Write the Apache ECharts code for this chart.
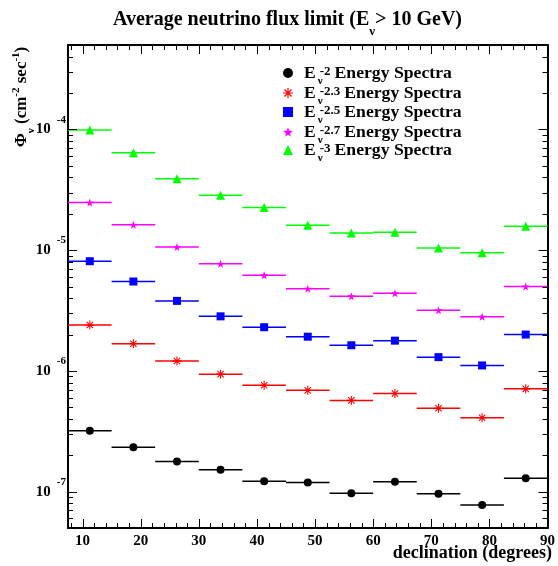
<!DOCTYPE html>
<html>
<head>
<meta charset="utf-8">
<script src="https://cdn.jsdelivr.net/npm/echarts@6/dist/echarts.min.js"></script>
<style>
  html, body { margin: 0; padding: 0; background: #ffffff; }
  #chart { width: 558px; height: 566px; }
</style>
</head>
<body>
<div id="chart"></div>
<script>
// Declination bins (degrees)
const binEdges = [7.5, 15, 22.5, 30, 37.5, 45, 52.5, 60, 67.5, 75, 82.5, 90];

// Spectral indices of the five energy spectra
const spectralIndices = ['-2', '-2.3', '-2.5', '-2.7', '-3'];

// Average flux limits per declination bin (cm^-2 s^-1)
const fluxE2  = [3.20e-7, 2.33e-7, 1.78e-7, 1.52e-7, 1.22e-7, 1.19e-7, 9.7e-8, 1.21e-7, 9.6e-8, 7.75e-8, 1.29e-7];
const fluxE23 = [2.40e-6, 1.68e-6, 1.21e-6, 9.4e-7, 7.6e-7, 6.9e-7, 5.7e-7, 6.5e-7, 4.9e-7, 4.1e-7, 7.1e-7];
const fluxE25 = [8.1e-6, 5.5e-6, 3.8e-6, 2.83e-6, 2.30e-6, 1.92e-6, 1.63e-6, 1.78e-6, 1.30e-6, 1.11e-6, 2.0e-6];
const fluxE27 = [2.48e-5, 1.62e-5, 1.06e-5, 7.7e-6, 6.2e-6, 4.8e-6, 4.15e-6, 4.4e-6, 3.18e-6, 2.81e-6, 5.0e-6];
const fluxE3  = [9.9e-5, 6.4e-5, 3.9e-5, 2.85e-5, 2.25e-5, 1.61e-5, 1.39e-5, 1.41e-5, 1.04e-5, 9.5e-6, 1.58e-5];

// Axis ticks
const xMajorTicks = [10, 20, 30, 40, 50, 60, 70, 80, 90];
const xMinorTicks = [8, 12, 14, 16, 18, 22, 24, 26, 28, 32, 34, 36, 38, 42, 44, 46, 48,
                     52, 54, 56, 58, 62, 64, 66, 68, 72, 74, 76, 78, 82, 84, 86, 88];
const yMajorTicks = [1e-7, 1e-6, 1e-5, 1e-4];
const xMin = 7.5, xMax = 90;
const yMin = 5e-8, yMax = 5e-4;

// minor ticks at 2..9 x 10^n inside the y range
const yMinorTicks = [];
for (let e = -8; e <= -4; e++) {
  for (let k = 2; k <= 9; k++) {
    const v = k * Math.pow(10, e);
    if (v >= yMin && v <= yMax) yMinorTicks.push(v);
  }
}

const fluxSets = [fluxE2, fluxE23, fluxE25, fluxE27, fluxE3];
const colors = ['#000000', '#ff0000', '#0000ff', '#ff00ff', '#00ff00'];

// Marker shapes
const asterisk = 'path://M-5,-0.6L5,-0.6L5,0.6L-5,0.6Z' +
  'M-0.6,-5L0.6,-5L0.6,5L-0.6,5Z' +
  'M-3.08,-3.92L3.92,3.08L3.08,3.92L-3.92,-3.08Z' +
  'M3.92,-3.08L-3.08,3.92L-3.92,3.08L3.08,-3.92Z';
const star = 'path://M0,-5L1.18,-1.62L4.76,-1.55L1.9,0.62L2.94,4.05L0,2L-2.94,4.05L-1.9,0.62L-4.76,-1.55L-1.18,-1.62Z';
const symbols = ['circle', asterisk, 'rect', star, 'triangle'];
const symbolSizes = [8, 9, 8, 8, 9];

const serif = 'Liberation Serif';
const names = spectralIndices.map(s => 'E' + s);

const series = [];
fluxSets.forEach((vals, i) => {
  // horizontal bars spanning each declination bin
  series.push({
    type: 'custom',
    name: names[i] + ' bins',
    encode: { x: [0, 1], y: 2 },
    data: vals.map((v, j) => [binEdges[j], binEdges[j + 1], v]),
    renderItem: (params, api) => {
      const a = api.coord([api.value(0), api.value(2)]);
      const b = api.coord([api.value(1), api.value(2)]);
      return {
        type: 'line',
        shape: { x1: a[0], y1: a[1], x2: b[0], y2: b[1] },
        style: { stroke: colors[i], lineWidth: 1.5 }
      };
    },
    z: 2
  });
  // markers at the bin centres
  series.push({
    type: 'scatter',
    name: names[i],
    symbol: symbols[i],
    symbolSize: symbolSizes[i],
    itemStyle: { color: colors[i], opacity: 1 },
    data: vals.map((v, j) => [(binEdges[j] + binEdges[j + 1]) / 2, v]),
    z: 3
  });
});

function xAxisDef(pos, labels) {
  return {
    type: 'value', position: pos, min: xMin, max: xMax,
    axisLine: { show: true, onZero: false, lineStyle: { color: '#000', width: 2 } },
    axisTick: { show: false },
    splitLine: { show: false },
    axisLabel: labels ? {
      show: true, customValues: xMajorTicks, margin: 6,
      fontFamily: serif, fontWeight: 'bold', fontSize: 15, color: '#000'
    } : { show: false }
  };
}

function yAxisDef(pos, labels) {
  return {
    type: 'log', logBase: 10, position: pos, min: yMin, max: yMax,
    axisLine: { show: true, onZero: false, lineStyle: { color: '#000', width: 2 } },
    axisTick: { show: false },
    splitLine: { show: false },
    minorTick: { show: false },
    axisLabel: labels ? {
      show: true, customValues: yMajorTicks, margin: 2,
      formatter: v => '{b|10}{e|' + Math.round(Math.log10(v)) + '}',
      rich: {
        b: { fontFamily: serif, fontWeight: 'bold', fontSize: 15, color: '#000', lineHeight: 30, verticalAlign: 'middle' },
        e: { fontFamily: serif, fontWeight: 'bold', fontSize: 11, color: '#000', padding: [0, 0, 0, 6], verticalAlign: 'top', lineHeight: 30 }
      }
    } : { show: false }
  };
}

const legendRich = {
  e:   { fontFamily: serif, fontWeight: 'bold', fontSize: 17.5, color: '#000', lineHeight: 15 },
  nu:  { fontFamily: serif, fontWeight: 'bold', fontSize: 11, color: '#000', width: 0, verticalAlign: 'bottom', lineHeight: 15, padding: [0, 0, -6, 2] },
  sup: { fontFamily: serif, fontWeight: 'bold', fontSize: 13, color: '#000', verticalAlign: 'top', lineHeight: 15, padding: [0, 4, 0, 2] },
  txt: { fontFamily: serif, fontWeight: 'bold', fontSize: 17.7, color: '#000', lineHeight: 15 }
};

// one legend row per spectrum
const legendTops = [59, 79, 98, 118, 136];
const legends = names.map((n, i) => ({
  data: [n],
  orient: 'vertical',
  left: 278, top: legendTops[i],
  itemWidth: 10, itemHeight: 10,
  selectedMode: false,
  formatter: name => '{e|E}{nu|ν}{sup|' + name.slice(1) + '}{txt|Energy Spectra}',
  textStyle: { rich: legendRich, padding: [0, 0, 0, 6] }
}));

const textGraphics = [
  {
    type: 'text', x: 22, y: 97, rotation: Math.PI / 2,
    style: {
      text: '{a|Φ}{s|ν}{a| (cm}{p|-2}{a| sec}{p|-1}{a|)}',
      align: 'center', verticalAlign: 'middle',
      rich: {
        a: { fontFamily: serif, fontWeight: 'bold', fontSize: 17, fill: '#000', lineHeight: 22 },
        s: { fontFamily: serif, fontWeight: 'bold', fontSize: 11, fill: '#000', verticalAlign: 'bottom', lineHeight: 22, padding: [0, 0, -4, 0] },
        p: { fontFamily: serif, fontWeight: 'bold', fontSize: 11, fill: '#000', verticalAlign: 'top', lineHeight: 22 }
      }
    }
  },
  {
    type: 'text', right: 6, top: 544,
    style: {
      text: 'declination (degrees)',
      fontFamily: serif, fontWeight: 'bold', fontSize: 18, fill: '#000'
    }
  }
];

const option = {
  backgroundColor: '#ffffff',
  animation: false,
  title: {
    text: '{a|Average neutrino flux limit (E}{s|ν}{a|> 10 GeV)}',
    left: 108, top: 2,
    textStyle: {
      rich: {
        a: { fontFamily: serif, fontWeight: 'bold', fontSize: 20, color: '#000', lineHeight: 26 },
        s: { fontFamily: serif, fontWeight: 'bold', fontSize: 13, color: '#000', verticalAlign: 'bottom', lineHeight: 26, padding: [0, 0, -5, 0] }
      }
    }
  },
  grid: { left: 68, right: 6, top: 45, bottom: 38, containLabel: false },
  xAxis: [xAxisDef('bottom', true), xAxisDef('top', false)],
  yAxis: [yAxisDef('left', true), yAxisDef('right', false)],
  legend: legends,
  graphic: textGraphics,
  series: series
};

const chart = echarts.init(document.getElementById('chart'), null, { renderer: 'canvas' });
chart.setOption(option);

// Inward frame ticks on all four sides, placed through the chart's own axis scales
(function drawFrameTicks() {
  try {
    const toPx = (x, y) => {
      let p = chart.convertToPixel({ gridIndex: 0 }, [x, y]);
      if (!p) p = chart.convertToPixel({ seriesIndex: 1 }, [x, y]);
      return p;
    };
    const c0 = toPx(xMin, yMin);
    const c1 = toPx(xMax, yMax);
    const fLeft = c0[0], fBottom = c0[1], fRight = c1[0], fTop = c1[1];
    const tickLine = (x1, y1, x2, y2) => ({
      type: 'line', silent: true, z: 50,
      shape: { x1: x1, y1: y1, x2: x2, y2: y2 },
      style: { stroke: '#000000', lineWidth: 1 }
    });
    const tickEls = [];
    [[xMajorTicks, 9], [xMinorTicks, 5]].forEach(([vals, len]) => {
      vals.forEach(v => {
        const x = Math.round(toPx(v, yMin)[0]) + 0.5;
        tickEls.push(tickLine(x, fBottom, x, fBottom - len), tickLine(x, fTop, x, fTop + len));
      });
    });
    [[yMajorTicks, 9], [yMinorTicks, 5]].forEach(([vals, len]) => {
      vals.forEach(v => {
        const y = Math.round(toPx(xMin, v)[1]) + 0.5;
        tickEls.push(tickLine(fLeft, y, fLeft + len, y), tickLine(fRight, y, fRight - len, y));
      });
    });
    chart.setOption({ graphic: textGraphics.concat(tickEls) });
  } catch (err) {
    // leave the chart without frame ticks if the pixel mapping is unavailable
  }
})();
</script>
</body>
</html>
